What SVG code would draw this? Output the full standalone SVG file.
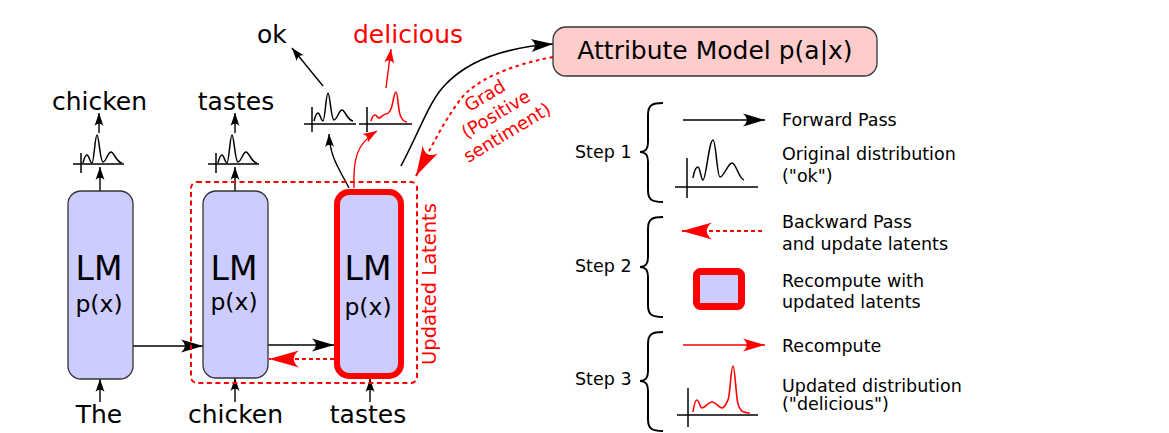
<svg xmlns="http://www.w3.org/2000/svg" width="1169" height="433" viewBox="0 0 1169 433">
<style>
text{font-family:"DejaVu Sans","Liberation Sans",sans-serif;fill:#000}
.w{font-size:25px}
.lg{font-size:17.5px}
.red{fill:#ff0000}
.lm{fill:#ccccff;stroke:#333;stroke-width:1.3}
.ln{fill:none;stroke:#000;stroke-width:1.4}
.rl{fill:none;stroke:#ff0000;stroke-width:1.4}
.dist{fill:none;stroke:#000;stroke-width:1.5}
.rdist{fill:none;stroke:#ff0000;stroke-width:1.6}
</style>
<defs>
<marker id="aL" markerUnits="userSpaceOnUse" orient="auto" refX="0" refY="0" markerWidth="40" markerHeight="40" style="overflow:visible"><path d="M0,0 L-22,-6.5 C-17,-2 -17,2 -22,6.5 Z" fill="#000"/></marker>
<marker id="aS" markerUnits="userSpaceOnUse" orient="auto" refX="0" refY="0" markerWidth="40" markerHeight="40" style="overflow:visible"><path d="M0,0 L-13,-4.5 C-10,-1.5 -10,1.5 -13,4.5 Z" fill="#000"/></marker>
<marker id="rL" markerUnits="userSpaceOnUse" orient="auto" refX="0" refY="0" markerWidth="40" markerHeight="40" style="overflow:visible"><path d="M0,0 L-22,-6.5 C-17,-2 -17,2 -22,6.5 Z" fill="#ff0000"/></marker>
<marker id="rS" markerUnits="userSpaceOnUse" orient="auto" refX="0" refY="0" markerWidth="40" markerHeight="40" style="overflow:visible"><path d="M0,0 L-14,-5 C-11,-1.5 -11,1.5 -14,5 Z" fill="#ff0000"/></marker>
<marker id="rB" markerUnits="userSpaceOnUse" orient="auto" refX="0" refY="0" markerWidth="60" markerHeight="60" style="overflow:visible"><path d="M0,0 L-30,-8.5 C-23,-3 -23,3 -30,8.5 Z" fill="#ff0000"/></marker>
<path id="dcurve" d="M0,0 C1,-4 2,-8 4,-8 C6,-8 7,0 9,0 C11,0 12,-28 14,-28 C16,-28 17,-1 20,-1 C23,-1 25,-11 28,-11 C31,-11 33,-1 39,0"/>
</defs>

<!-- connectors -->
<g id="connectors">
  <line class="ln" x1="133" y1="346" x2="203" y2="346" marker-end="url(#aL)"/>
  <line class="ln" x1="268" y1="345" x2="334" y2="345" marker-end="url(#aL)"/>
  <line x1="334" y1="359" x2="269" y2="359" stroke="#ff0000" stroke-width="2" stroke-dasharray="4,3" marker-end="url(#rB)"/>
  <line class="ln" x1="100" y1="402" x2="100" y2="379" marker-end="url(#aS)"/>
  <line class="ln" x1="235" y1="402" x2="235" y2="378" marker-end="url(#aS)"/>
  <line class="ln" x1="370" y1="402" x2="370" y2="379" marker-end="url(#aS)"/>
  <line class="ln" x1="100" y1="191" x2="100" y2="167" marker-end="url(#aS)"/>
  <line class="ln" x1="235" y1="191" x2="235" y2="167" marker-end="url(#aS)"/>
  <line class="ln" x1="99" y1="133" x2="99" y2="113" marker-end="url(#aS)"/>
  <line class="ln" x1="235" y1="133" x2="235" y2="113" marker-end="url(#aS)"/>
  <path class="ln" d="M349,188 C340,170 330,158 329,134" marker-end="url(#aS)"/>
  <path class="rl" d="M354,188 C353,160 356,144 377,131" marker-end="url(#rS)"/>
  <line class="ln" x1="323" y1="86" x2="292" y2="48" marker-end="url(#aS)"/>
  <line class="rl" x1="386" y1="88" x2="391" y2="49" marker-end="url(#rS)"/>
  <path fill="none" stroke="#000" stroke-width="1.6" d="M401,166 C420,130 430,100 445,85 C470,58 510,47 553,44" marker-end="url(#aL)"/>
  <path fill="none" stroke="#ff0000" stroke-width="2" stroke-dasharray="3.5,3.5" d="M553,57 C510,65 475,80 460,100 C442,124 430,150 416,176" marker-end="url(#rB)"/>
</g>

<g id="updated-latents">
  <rect x="191" y="182" width="226" height="201" rx="6" fill="none" stroke="#ff0000" stroke-width="2" stroke-dasharray="5,3.5"/>
  <text transform="translate(436,284) rotate(-90)" text-anchor="middle" font-size="19.5" class="red">Updated Latents</text>
</g>

<g id="lm1">
  <rect class="lm" x="68" y="191" width="65" height="188" rx="13"/>
  <text x="99" y="280" text-anchor="middle" font-size="33">LM</text>
  <text x="99" y="312" text-anchor="middle" font-size="23.5">p(x)</text>
</g>
<g id="lm2">
  <rect class="lm" x="203" y="191" width="65" height="187" rx="13"/>
  <text x="234" y="280" text-anchor="middle" font-size="33">LM</text>
  <text x="234" y="310" text-anchor="middle" font-size="23.5">p(x)</text>
</g>
<g id="lm3">
  <rect x="337" y="192" width="64" height="184" rx="12" fill="#ccccff" stroke="#ff0000" stroke-width="6"/>
  <text x="368" y="280" text-anchor="middle" font-size="33">LM</text>
  <text x="368" y="315" text-anchor="middle" font-size="23.5">p(x)</text>
</g>

<g id="attribute-model">
  <rect x="553" y="27" width="324" height="49" rx="13" fill="#ffcccc" stroke="#333" stroke-width="1.3"/>
  <text x="715" y="59" text-anchor="middle" class="w">Attribute Model p(a|x)</text>
</g>

<g id="grad-label" transform="translate(488,101) rotate(-31)">
  <text x="0" y="0" text-anchor="middle" font-size="18" class="red">Grad</text>
  <text x="0" y="21.5" text-anchor="middle" font-size="18" class="red">(Positive</text>
  <text x="0" y="43" text-anchor="middle" font-size="18" class="red">sentiment)</text>
</g>

<g id="dist1">
  <line class="dist" x1="73" y1="164" x2="124" y2="164"/>
  <line class="dist" x1="81" y1="153" x2="81" y2="173"/>
  <use href="#dcurve" transform="translate(83,163)" class="dist"/>
</g>
<g id="dist2">
  <line class="dist" x1="208" y1="164" x2="259" y2="164"/>
  <line class="dist" x1="216" y1="153" x2="216" y2="173"/>
  <use href="#dcurve" transform="translate(218,163)" class="dist"/>
</g>
<g id="dist3">
  <line class="dist" x1="304" y1="124" x2="356" y2="124"/>
  <line class="dist" x1="312" y1="107" x2="312" y2="132"/>
  <use href="#dcurve" transform="translate(314,121)" class="dist"/>
</g>
<g id="dist4">
  <line class="dist" x1="359" y1="124" x2="412" y2="124"/>
  <line class="dist" x1="367" y1="107" x2="367" y2="132"/>
  <path class="rdist" d="M371,121 C372,117 373,115 375,115 C377,115 377,118 379,118 C381,118 383,114 386,114 C388,114 389,113 391,109 C393,104 394,92 396,92 C398,92 398,113 401,117 C403,121 405,122 407,122"/>
</g>

<g id="words">
  <text x="99.5" y="110" text-anchor="middle" class="w">chicken</text>
  <text x="236" y="110" text-anchor="middle" class="w">tastes</text>
  <text x="257" y="43" class="w">ok</text>
  <text x="353" y="43" class="w red">delicious</text>
  <text x="99" y="423" text-anchor="middle" class="w">The</text>
  <text x="235.5" y="423" text-anchor="middle" class="w">chicken</text>
  <text x="368" y="423" text-anchor="middle" class="w">tastes</text>
</g>

<g id="legend-step1">
  <text x="575" y="158" class="lg">Step 1</text>
  <path fill="none" stroke="#000" stroke-width="2" d="M663,103 C652,103 648,105 648,115 L648,142 C648,150 645,152 640,152 C645,152 648,154 648,162 L648,190 C648,200 652,202 663,202"/>
  <line class="ln" x1="683" y1="120" x2="765" y2="120" marker-end="url(#aL)"/>
  <text x="782" y="126" class="lg">Forward Pass</text>
  <line class="dist" x1="675" y1="187" x2="758" y2="187"/>
  <line class="dist" x1="687" y1="158" x2="687" y2="198"/>
  <path class="dist" stroke-width="2" d="M693,178 C694,172 696,167 698,167 C700,167 701,180 703,180 C706,180 709,140 713,140 C716,140 717,177 720,177 C724,177 728,163 732,163 C736,163 739,179 744,180"/>
  <text x="782" y="160" class="lg">Original distribution</text>
  <text x="782" y="182" class="lg">("ok")</text>
</g>
<g id="legend-step2">
  <text x="575" y="272" class="lg">Step 2</text>
  <path fill="none" stroke="#000" stroke-width="2" d="M663,217 C652,217 648,219 648,229 L648,257 C648,265 645,267 640,267 C645,267 648,269 648,277 L648,305 C648,315 652,317 663,317"/>
  <line x1="762" y1="231" x2="682" y2="231" stroke="#ff0000" stroke-width="2" stroke-dasharray="4,3" marker-end="url(#rB)"/>
  <text x="782" y="228" class="lg">Backward Pass</text>
  <text x="782" y="250" class="lg">and update latents</text>
  <rect x="696.5" y="271.5" width="45" height="35" rx="4" fill="#ccccff" stroke="#ff0000" stroke-width="7"/>
  <text x="782" y="287" class="lg">Recompute with</text>
  <text x="782" y="308" class="lg">updated latents</text>
</g>
<g id="legend-step3">
  <text x="575" y="385" class="lg">Step 3</text>
  <path fill="none" stroke="#000" stroke-width="2" d="M663,332 C652,332 648,334 648,344 L648,371 C648,379 645,381 640,381 C645,381 648,383 648,391 L648,419 C648,429 652,431 663,431"/>
  <line class="rl" x1="683" y1="345" x2="765" y2="345" marker-end="url(#rL)"/>
  <text x="782" y="352" class="lg">Recompute</text>
  <line class="dist" x1="677" y1="415" x2="758" y2="415"/>
  <line class="dist" x1="688" y1="388" x2="688" y2="427"/>
  <path class="rdist" stroke-width="2" d="M693,412 C694,405 695,400 697,400 C699,400 700,408 702,408 C705,408 708,402 712,402 C716,402 719,408 722,408 C725,408 726,403 728,400 C730,396 731,366 733,366 C735,366 736,398 738,404 C740,410 742,412 744,412 C746,413 748,413 750,413"/>
  <text x="782" y="392" class="lg">Updated distribution</text>
  <text x="782" y="410" class="lg">("delicious")</text>
</g>
</svg>
